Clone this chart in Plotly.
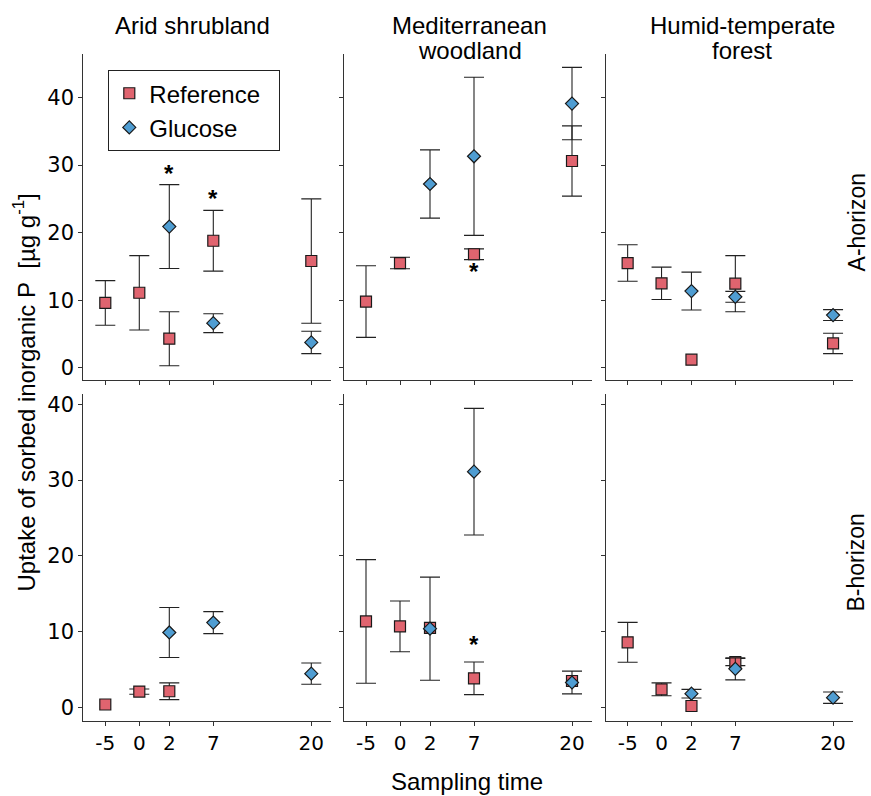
import plotly.graph_objects as go

# ---------------- data ----------------
times = [-5, 0, 2, 7, 20]
time_labels = ["-5", "0", "2", "7", "20"]
ecosystems = ["Arid shrubland", "Mediterranean woodland", "Humid-temperate forest"]
ecosystem_lines = [["Arid shrubland"], ["Mediterranean", "woodland"], ["Humid-temperate", "forest"]]
horizons = ["A-horizon", "B-horizon"]

# A-horizon
ref_A_arid = [9.6, 11.1, 4.3, 18.8, 15.8]
ref_A_arid_sd = [3.3, 5.5, 4.0, 4.5, 9.2]
glu_A_arid = [None, None, 20.9, 6.6, 3.75]
glu_A_arid_sd = [None, None, 6.2, 1.4, 1.65]

ref_A_med = [9.8, 15.5, None, 16.8, 30.6]
ref_A_med_sd = [5.3, 0.85, None, 0.8, 5.2]
glu_A_med = [None, None, 27.2, 31.3, 39.1]
glu_A_med_sd = [None, None, 5.05, 11.7, 5.35]

ref_A_hum = [15.5, 12.5, 1.2, 12.45, 3.6]
ref_A_hum_sd = [2.7, 2.4, None, 4.15, 1.5]
glu_A_hum = [None, None, 11.35, 10.5, 7.8]
glu_A_hum_sd = [None, None, 2.8, 0.8, 0.8]

# B-horizon
ref_B_arid = [0.4, 2.1, 2.15, None, None]
ref_B_arid_sd = [None, 0.35, 1.1, None, None]
glu_B_arid = [None, None, 9.9, 11.2, 4.47]
glu_B_arid_sd = [None, None, 3.3, 1.45, 1.4]

ref_B_med = [11.35, 10.7, 10.5, 3.85, 3.5]
ref_B_med_sd = [8.15, 3.35, None, 2.15, None]
glu_B_med = [None, None, 10.4, 31.1, 3.3]
glu_B_med_sd = [None, None, 6.8, 8.35, 1.5]

ref_B_hum = [8.6, 2.4, 0.2, 6.0, None]
ref_B_hum_sd = [2.63, 0.85, None, 0.47, None]
glu_B_hum = [None, None, 1.83, 5.1, 1.3]
glu_B_hum_sd = [None, None, 0.57, 1.45, 0.75]

reference = [[ref_A_arid, ref_A_med, ref_A_hum], [ref_B_arid, ref_B_med, ref_B_hum]]
reference_sd = [[ref_A_arid_sd, ref_A_med_sd, ref_A_hum_sd], [ref_B_arid_sd, ref_B_med_sd, ref_B_hum_sd]]
glucose = [[glu_A_arid, glu_A_med, glu_A_hum], [glu_B_arid, glu_B_med, glu_B_hum]]
glucose_sd = [[glu_A_arid_sd, glu_A_med_sd, glu_A_hum_sd], [glu_B_arid_sd, glu_B_med_sd, glu_B_hum_sd]]

# significance stars: (horizon row, ecosystem col, time, y value)
star_row = [0, 0, 0, 1]
star_col = [0, 0, 1, 1]
star_time = [2, 7, 7, 7]
star_y = [28.8, 25.1, 14.3, 8.3]

y_ticks = [0, 10, 20, 30, 40]

# ---------------- layout / styling ----------------
W, H = 871, 796
FONT = "Arial, Liberation Sans, sans-serif"
TICKFONT = "DejaVu Sans, sans-serif"
RED = "#E0646F"
BLUE = "#4F9DD2"
AX = "#333333"

# custom (uneven) horizontal scale for sampling times, in axis units
time_axis_pos = {-5: 22, 0: 56, 2: 86, 7: 130, 20: 228}
x_range = [0, 248]

col_px = [(83.3, 331.3), (344.0, 592.0), (605.7, 853.0)]
row_px = [(51.7, 379.3), (393.3, 720.7)]
row_yrange = [[-1.86, 46.5], [-1.76, 41.3]]


def px(x):
    return x / W


def py(y):
    return 1 - y / H


series_style = {
    "Reference": dict(symbol="square", size=11, color=RED, group="ref"),
    "Glucose": dict(symbol="diamond", size=10, color=BLUE, group="glu"),
}

fig = go.Figure()
layout = dict(
    width=W, height=H, autosize=False,
    margin=dict(l=0, r=0, t=0, b=0),
    paper_bgcolor="white", plot_bgcolor="white",
    font=dict(family=FONT, size=24, color="black"),
    showlegend=True,
    legend=dict(
        x=px(108.3), y=py(68.3), xanchor="left", yanchor="top",
        bordercolor="#222222", borderwidth=1, bgcolor="white",
        font=dict(family=FONT, size=24, color="black"),
        tracegroupgap=0, itemwidth=30,
    ),
)


def add_series(name, vals, sds, xa, ya, first):
    st = series_style[name]
    marker = dict(symbol=st["symbol"], size=st["size"], color=st["color"],
                  line=dict(color="#1a1a1a", width=1.2))
    with_err = [k for k, v in enumerate(vals) if v is not None and sds[k] is not None]
    no_err = [k for k, v in enumerate(vals) if v is not None and sds[k] is None]
    legend_done = False
    for idx, has_err in ((with_err, True), (no_err, False)):
        if not idx:
            continue
        tr = dict(
            x=[time_axis_pos[times[k]] for k in idx],
            y=[vals[k] for k in idx],
            xaxis=xa, yaxis=ya, mode="markers",
            name=name + ("\u00a0\u00a0" if name == "Reference" else ""),
            legendgroup=st["group"],
            showlegend=first and not legend_done,
            marker=marker,
        )
        if has_err:
            tr["error_y"] = dict(type="data", array=[sds[k] for k in idx], visible=True,
                                 color="#222222", thickness=1.1, width=10)
        fig.add_trace(go.Scatter(**tr))
        legend_done = True


annotations = []
for r in range(2):
    for c in range(3):
        i = r * 3 + c + 1
        xa = "x" if i == 1 else f"x{i}"
        ya = "y" if i == 1 else f"y{i}"
        add_series("Reference", reference[r][c], reference_sd[r][c], xa, ya, i == 1)
        add_series("Glucose", glucose[r][c], glucose_sd[r][c], xa, ya, i == 1)
        x0, x1 = col_px[c]
        y0, y1 = row_px[r]
        xkey = "xaxis" if i == 1 else f"xaxis{i}"
        ykey = "yaxis" if i == 1 else f"yaxis{i}"
        layout[xkey] = dict(
            domain=[px(x0), px(x1)], anchor=ya, range=x_range,
            tickmode="array", tickvals=[time_axis_pos[t] for t in times], ticktext=time_labels,
            showticklabels=(r == 1), ticks="outside", ticklen=4, tickwidth=1,
            tickcolor=AX, showline=True, linecolor=AX, linewidth=1.2,
            showgrid=False, zeroline=False,
            tickfont=dict(family=TICKFONT, size=20, color="black"),
        )
        layout[ykey] = dict(
            domain=[py(y1), py(y0)], anchor=xa, range=row_yrange[r],
            tickmode="array", tickvals=y_ticks,
            showticklabels=(c == 0), ticks="outside", ticklen=4, tickwidth=1,
            tickcolor=AX, showline=True, linecolor=AX, linewidth=1.2,
            showgrid=False, zeroline=False,
            tickfont=dict(family=TICKFONT, size=21, color="black"),
        )

# significance stars
for r, c, t, yv in zip(star_row, star_col, star_time, star_y):
    i = r * 3 + c + 1
    annotations.append(dict(
        x=time_axis_pos[t], y=yv, xref="x" if i == 1 else f"x{i}",
        yref="y" if i == 1 else f"y{i}", text="<b>*</b>", showarrow=False,
        font=dict(family=FONT, size=24, color="black"),
        xanchor="center", yanchor="middle", yshift=0,
    ))

# column strip titles
title_cx = [192.0, 469.5, 742.0]
title_line_y = [24.0, 48.8]
for c, lines in enumerate(ecosystem_lines):
    for k, line in enumerate(lines):
        annotations.append(dict(
            x=px(title_cx[c]), y=py(title_line_y[k]), xref="paper", yref="paper",
            text=line, showarrow=False, xanchor="center", yanchor="middle",
            font=dict(family=FONT, size=24, color="black"),
        ))

# row strip labels
row_label_y = [221.5, 562.5]
for r, lab in enumerate(horizons):
    annotations.append(dict(
        x=px(856.5), y=py(row_label_y[r]), xref="paper", yref="paper",
        text=lab, showarrow=False, textangle=-90, xanchor="center", yanchor="middle",
        font=dict(family=FONT, size=23, color="black"),
    ))

# axis titles
annotations.append(dict(
    x=px(466.5), y=py(781), xref="paper", yref="paper", text="Sampling time",
    showarrow=False, xanchor="center", yanchor="middle",
    font=dict(family=FONT, size=24, color="black"),
))
annotations.append(dict(
    x=px(24), y=py(391.5), xref="paper", yref="paper",
    text="Uptake of sorbed inorganic P\u00a0\u00a0[µg g<sup>-1</sup>]",
    showarrow=False, textangle=-90, xanchor="center", yanchor="middle",
    font=dict(family=FONT, size=24, color="black"),
))

layout["annotations"] = annotations
fig.update_layout(**layout)
fig.write_html("out.html")
